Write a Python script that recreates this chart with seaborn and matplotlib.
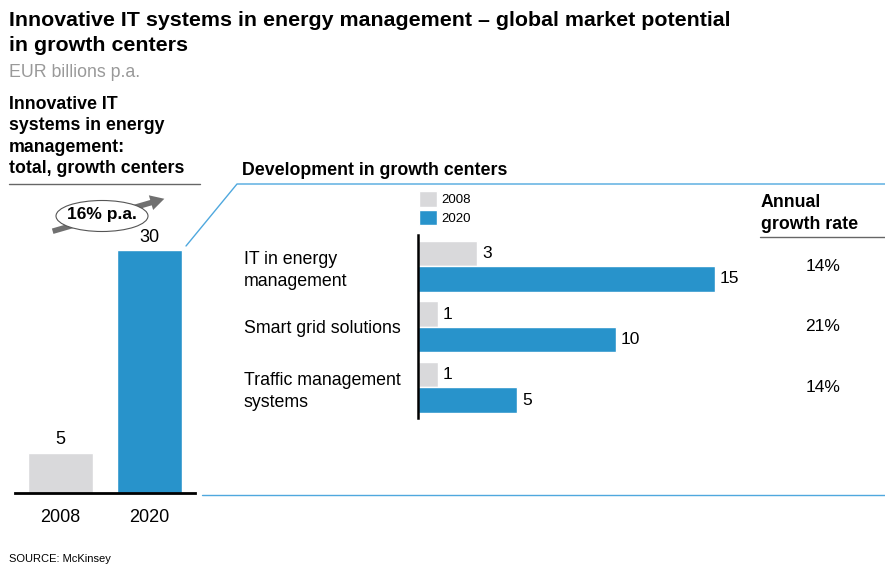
import matplotlib
matplotlib.use("Agg")
import matplotlib.pyplot as plt
import seaborn as sns
import pandas as pd
from matplotlib.lines import Line2D
from matplotlib.patches import FancyArrowPatch, Ellipse
import matplotlib.transforms as mtransforms

# data
years = ["2008", "2020"]
totals = [5, 30]
segments = ["IT in energy\nmanagement", "Smart grid solutions", "Traffic management\nsystems"]
values_2008 = [3, 1, 1]
values_2020 = [15, 10, 5]
growth_rates = ["14%", "21%", "14%"]
cagr_label = "16% p.a."

grey = "#D9D9DB"
blue = "#2893CB"
line_blue = "#4FA8DE"

sns.set_style("white")
plt.rcParams['font.family'] = ['Liberation Sans', 'DejaVu Sans']
plt.rcParams['text.color'] = 'black'
plt.rcParams['xtick.color'] = 'black'
plt.rcParams['ytick.color'] = 'black'

W, H = 885, 566
fig = plt.figure(figsize=(W / 100, H / 100), dpi=100)

def fx(x):
    return x / W

def fy(y):
    return 1 - y / H

# left chart: totals
ax1 = fig.add_axes([fx(15), fy(493), 180 / W, 283 / H])
df_tot = pd.DataFrame({"year": years, "total": totals})
sns.barplot(data=df_tot, x="year", y="total", hue="year", palette=[grey, blue],
            width=0.73, saturation=1, legend=False, ax=ax1)
ax1.set_xlim(-0.511, 1.511)
ax1.set_ylim(0, 283 / 8.1)
for s in ["left", "right", "top"]:
    ax1.spines[s].set_visible(False)
ax1.spines["bottom"].set_color("black")
ax1.spines["bottom"].set_linewidth(2)
ax1.set_yticks([])
ax1.set_xlabel("")
ax1.set_ylabel("")
ax1.tick_params(axis="x", length=0, pad=11.5, labelsize=13)
for c in ax1.containers:
    ax1.bar_label(c, padding=3, fontsize=13)

# right chart: development in growth centers
ax2 = fig.add_axes([fx(418), fy(418), 342 / W, 183 / H])
df_seg = pd.DataFrame({
    "segment": segments * 2,
    "value": values_2008 + values_2020,
    "year": ["2008"] * 3 + ["2020"] * 3,
})
sns.barplot(data=df_seg, y="segment", x="value", hue="year", orient="h",
            palette=[grey, blue], width=0.84, saturation=1, ax=ax2)
ax2.set_ylim(2.504, -0.512)
ax2.set_xlim(0, 342 / 19.8)
for s in ["bottom", "right", "top"]:
    ax2.spines[s].set_visible(False)
ax2.spines["left"].set_color("black")
ax2.spines["left"].set_linewidth(1.8)
ax2.set_xticks([])
ax2.set_xlabel("")
ax2.set_ylabel("")
ax2.set_yticks(range(len(segments)))
ax2.set_yticklabels(segments, ha="left", fontsize=12.8, linespacing=1.38)
ax2.tick_params(axis="y", length=0, pad=174 * 0.72)
for c in ax2.containers:
    ax2.bar_label(c, padding=3.5, fontsize=12.5)
ax2.legend(loc="upper left", bbox_to_anchor=(fx(419), fy(191)),
           bbox_transform=fig.transFigure, frameon=False, fontsize=9.5,
           handlelength=1.4, handleheight=1.45, handletextpad=0.3,
           labelspacing=0.22, borderpad=0, borderaxespad=0)

# growth rate column
tr = mtransforms.blended_transform_factory(fig.transFigure, ax2.transData)
for i, g in enumerate(growth_rates):
    ax2.text(fx(823), i, g, transform=tr, ha="center", va="center", fontsize=12.5)
fig.text(fx(761), fy(194), "Annual\ngrowth rate", ha="left", va="top",
         fontsize=12.8, fontweight="bold", linespacing=1.4)

# titles
fig.text(fx(9), fy(11), "Innovative IT systems in energy management \u2013 global market potential\nin growth centers",
         ha="left", va="top", fontsize=15.4, fontweight="bold", linespacing=1.4)
fig.text(fx(9), fy(64), "EUR billions p.a.", ha="left", va="top", fontsize=12.8, color="#999999")
fig.text(fx(9), fy(96), "Innovative IT\nsystems in energy\nmanagement:\ntotal, growth centers",
         ha="left", va="top", fontsize=12.8, fontweight="bold", linespacing=1.33)
fig.text(fx(242), fy(162), "Development in growth centers", ha="left", va="top",
         fontsize=12.8, fontweight="bold")
fig.text(fx(9), fy(554), "SOURCE: McKinsey", ha="left", va="top", fontsize=8)

# decoration lines
fig.add_artist(Line2D([fx(9), fx(200)], [fy(184), fy(184)], color="#666666", lw=1))
fig.add_artist(Line2D([fx(760), fx(885)], [fy(237), fy(237)], color="#666666", lw=1))
fig.add_artist(Line2D([fx(186), fx(237), fx(885)], [fy(246), fy(184), fy(184)], color=line_blue, lw=1))
fig.add_artist(Line2D([fx(202), fx(885)], [fy(495), fy(495)], color=line_blue, lw=1))

# growth arrow and bubble
fig.add_artist(FancyArrowPatch((fx(50), fy(232)), (fx(167), fy(198)), transform=fig.transFigure,
                               arrowstyle="simple,head_length=1.0,head_width=1.1,tail_width=0.4",
                               mutation_scale=10, fc="#707070", ec="none", lw=0))
fig.add_artist(Ellipse((fx(102), fy(216)), 92 / W, 31 / H, transform=fig.transFigure,
                       fc="white", ec="#555555", lw=0.8))
fig.text(fx(102), fy(215), cagr_label, ha="center", va="center", fontsize=12.5, fontweight="bold")

fig.savefig("out.png", dpi=100)
